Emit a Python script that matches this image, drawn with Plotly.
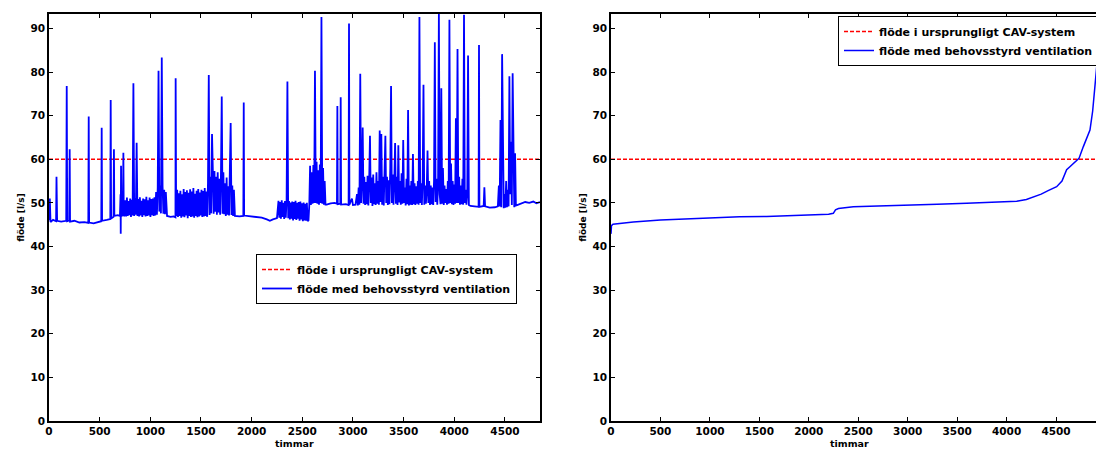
import plotly.graph_objects as go

# ---------------- data ----------------
# Left panel: hourly flow [l/s]; calm stretches as explicit (hour, value) pairs,
# busy stretches as value lists sampled every 8 h from a start hour.
calm0_h = [0, 8, 15, 40, 70, 74, 80, 120, 170, 175, 180, 200, 204, 208, 250, 300, 350,
           388, 392, 396, 440, 480, 516, 520, 524, 570, 605, 609, 613, 637, 641, 645,
           680, 700, 706, 708, 711, 716, 730, 734, 738]
calm0_v = [46.0, 51.0, 45.6, 46.1, 45.8, 56.0, 45.9, 45.7, 45.9, 76.8, 45.8, 46.0, 62.3,
           45.7, 45.9, 45.5, 45.6, 45.4, 69.8, 45.5, 45.3, 45.6, 45.8, 67.2, 45.9, 46.1,
           46.3, 73.6, 46.4, 46.8, 62.3, 47.0, 47.2, 47.0, 52.0, 42.9, 58.5, 47.0, 47.2,
           61.5, 47.0]
busyA_start = 745
busyA = [47.1, 50.6, 46.9, 51.2, 47.0, 50.4, 47.2, 51.0, 46.8, 50.7, 47.1, 77.4, 47.0,
         51.1, 47.3, 63.8, 47.0, 50.9, 46.9, 51.3, 47.1, 50.5, 46.8, 51.0, 47.2, 50.8,
         46.9, 51.4, 47.0, 50.6, 47.1, 51.2, 46.8, 50.9, 47.2, 51.0, 47.0, 51.3, 47.1,
         52.5, 47.3, 53.5, 80.3, 48.0, 54.0, 47.6, 83.3, 53.8, 47.5, 53.0, 47.4, 52.5]
calm1_h = [1165, 1200, 1230, 1248, 1250, 1255]
calm1_v = [47.0, 46.8, 46.9, 46.7, 78.6, 47.0]
busyB_start = 1265
busyB = [53.0, 46.8, 52.2, 47.0, 52.8, 46.6, 52.0, 46.9, 53.2, 46.7, 52.5, 47.1, 52.9,
         46.5, 52.3, 47.0, 53.1, 46.8, 52.6, 46.9, 53.4, 46.6, 52.1, 47.0, 52.8, 46.7,
         53.2, 46.9, 52.4, 47.1, 53.0, 46.8, 52.7, 46.9, 53.4, 47.0, 52.6, 46.8, 54.5,
         79.3, 47.2, 56.0, 47.6, 65.8, 57.5, 47.5, 57.3, 48.0, 56.0, 47.3, 57.0, 47.8,
         55.5, 47.3, 56.5, 74.4, 47.5, 57.0, 47.4, 54.5, 47.0, 55.8, 47.3, 53.8, 47.1,
         54.8, 68.3, 47.2, 54.0, 47.0, 53.0]
calm2_h = [1835, 1880, 1918, 1922, 1926, 1980, 2050, 2100, 2150, 2180, 2210, 2250]
calm2_v = [47.0, 46.9, 47.0, 73.0, 47.1, 46.9, 46.8, 46.6, 46.2, 45.9, 46.2, 46.5]
busyD_start = 2265
busyD = [50.5, 46.6, 50.2, 46.4, 50.6, 46.8, 50.0, 46.3, 50.4, 46.6, 50.7, 77.8, 46.5,
         50.4, 46.2, 50.1, 46.4, 50.3, 46.0, 50.2, 46.3, 50.5, 46.1, 50.0, 46.4, 50.2,
         45.9, 50.3, 46.2, 49.9, 45.8, 50.1, 46.0, 49.8, 45.9, 50.0, 45.8, 46.0, 49.5,
         58.5, 49.5, 57.0, 49.8, 58.7, 50.0, 80.3, 50.0, 59.4, 49.8, 57.5, 49.6, 58.8,
         50.0, 92.6, 49.8, 58.0, 49.6, 55.0, 49.6]
calm3_h = [2740, 2780, 2820, 2842, 2846, 2850, 2875, 2879, 2883, 2930, 2957, 2961, 2965,
           2990, 3000, 3025]
calm3_v = [49.6, 49.9, 50.0, 49.8, 72.2, 49.7, 49.8, 74.2, 49.6, 49.7, 49.5, 91.1, 49.6,
           51.0, 49.5, 49.6]
busyF_start = 3040
busyF = [52.0, 49.4, 53.5, 49.6, 79.6, 50.0, 55.0, 67.3, 49.8, 56.0, 49.5, 54.8, 49.7,
         56.2, 49.4, 55.0, 65.4, 50.0, 55.8, 49.3, 56.5, 49.7, 54.5, 49.5, 57.0, 49.8,
         55.0, 49.6, 66.6, 50.2, 65.8, 49.6, 56.0, 49.4, 57.5, 65.4, 50.0, 56.0, 49.5,
         55.2, 49.7, 57.8, 76.8, 50.0, 56.5, 49.6, 55.0, 63.7, 49.8, 56.0, 49.5, 63.2,
         50.1, 55.0, 49.6, 56.8, 49.8, 64.4, 50.0, 53.5, 49.4, 55.5, 49.7, 71.3, 49.4,
         54.0, 49.6, 55.0, 49.5, 61.2, 49.7, 54.5, 49.5, 53.8, 49.8, 55.0, 49.6, 92.6,
         50.0, 54.5, 49.5, 55.5, 77.1, 49.6, 54.0, 49.8, 53.0, 62.0, 50.0, 55.0, 49.5,
         54.0, 49.7, 53.5, 49.5, 55.0, 86.8, 50.2, 55.5, 49.6, 54.0, 93.3, 52.0, 49.7,
         76.3, 49.8, 58.0, 49.5, 54.0, 50.0, 53.2, 49.6, 55.0, 49.8, 92.0, 50.0, 59.0,
         49.7, 55.0, 49.5, 54.2, 49.8, 69.4, 50.0, 85.3, 50.0, 56.0, 49.6, 54.0, 49.7,
         55.5, 49.6, 93.1, 50.0, 53.0, 49.6, 52.0, 83.8, 49.5]
calm4_h = [4160, 4200, 4240, 4244, 4248, 4290, 4297, 4304, 4350, 4400, 4430]
calm4_v = [49.3, 49.2, 49.1, 86.2, 49.1, 49.3, 53.6, 49.2, 48.9, 49.0, 49.2]
busyH_start = 4440
busyH = [54.0, 49.2, 69.0, 49.0, 84.1, 54.0, 48.8, 52.0, 48.9, 55.0, 49.0, 53.0, 49.2,
         79.0, 52.0, 64.0, 49.5, 79.7, 55.0, 49.0, 61.4, 49.4]
calm5_h = [4620, 4660, 4700, 4740, 4780, 4810, 4846]
calm5_v = [49.5, 49.8, 50.2, 50.0, 50.3, 49.9, 50.2]
busy_step = 8

# Right panel: duration curve (sorted hourly flow)
dur_h = [0, 5, 20, 100, 225, 500, 900, 1300, 1574, 1900, 2200, 2248, 2270, 2300, 2450,
         2700, 2922, 3300, 3596, 3900, 4102, 4200, 4270, 4350, 4420, 4506, 4560, 4607,
         4640, 4675, 4732, 4776, 4843, 4870, 4904, 4930, 4960]
dur_v = [42.9, 44.8, 45.1, 45.3, 45.6, 46.1, 46.5, 46.8, 46.9, 47.1, 47.4, 47.6, 48.4,
         48.7, 49.1, 49.3, 49.5, 49.7, 49.9, 50.1, 50.4, 50.8, 51.4, 52.0, 52.8, 53.7,
         55.0, 57.6, 58.3, 59.1, 60.2, 62.9, 66.7, 71.0, 79.0, 86.0, 93.3]

cav_flow = 60
left_span = [0, 4846]
right_span = [0, 5000]
x_ticks = [0, 500, 1000, 1500, 2000, 2500, 3000, 3500, 4000, 4500]
y_ticks = [0, 10, 20, 30, 40, 50, 60, 70, 80, 90]

name_cav = "flöde i ursprungligt CAV-system"
name_dcv = "flöde med behovsstyrd ventilation"
x_title = "timmar"
y_title = "flöde [l/s]"

# ---------------- assemble left series ----------------
hours, flow = [], []
def add_pairs(h, v):
    hours.extend(h); flow.extend(v)
def add_busy(start, vals):
    hours.extend(start + i * busy_step for i in range(len(vals))); flow.extend(vals)

add_pairs(calm0_h, calm0_v); add_busy(busyA_start, busyA)
add_pairs(calm1_h, calm1_v); add_busy(busyB_start, busyB)
add_pairs(calm2_h, calm2_v); add_busy(busyD_start, busyD)
add_pairs(calm3_h, calm3_v); add_busy(busyF_start, busyF)
add_pairs(calm4_h, calm4_v); add_busy(busyH_start, busyH)
add_pairs(calm5_h, calm5_v)

# ---------------- layout (page margin removed by post_script) ----------------
W, H = 1096, 450
def px(x):  # page x -> paper x
    return x / W
def py(y):  # page y -> paper y
    return (H - y) / H

BLUE = "#0000ff"
RED = "#ff0000"
FONT = dict(family="DejaVu Sans", size=10.5, color="black", weight="bold")

fig = go.Figure()
fig.add_trace(go.Scatter(x=left_span, y=[cav_flow, cav_flow], mode="lines", name=name_cav,
                         line=dict(color=RED, width=1.5, dash="4px,2px"),
                         xaxis="x", yaxis="y", legend="legend"))
fig.add_trace(go.Scatter(x=hours, y=flow, mode="lines", name=name_dcv,
                         line=dict(color=BLUE, width=1.8),
                         xaxis="x", yaxis="y", legend="legend"))
fig.add_trace(go.Scatter(x=right_span, y=[cav_flow, cav_flow], mode="lines", name=name_cav,
                         line=dict(color=RED, width=1.5, dash="4px,2px"),
                         xaxis="x2", yaxis="y2", legend="legend2"))
fig.add_trace(go.Scatter(x=dur_h, y=dur_v, mode="lines", name=name_dcv,
                         line=dict(color=BLUE, width=1.5),
                         xaxis="x2", yaxis="y2", legend="legend2"))

ydom = [py(421), py(14)]
ax_common = dict(showgrid=False, zeroline=False, showline=True, linecolor="black",
                 linewidth=1.5, ticks="inside", ticklen=4, tickcolor="black",
                 tickwidth=1, tickfont=FONT, automargin=False)
ytitle = dict(text=y_title, font=dict(family="DejaVu Sans", size=9, weight="bold"),
              standoff=4)

legend_common = dict(bgcolor="white", bordercolor="black", borderwidth=1,
                     font=dict(family="DejaVu Sans", size=11, color="black", weight="bold"),
                     xanchor="left", yanchor="top", itemwidth=30,
                     tracegroupgap=0)

xt_font = dict(family="DejaVu Sans", size=9.5, color="black", weight="bold")

fig.update_layout(
    width=W, height=H,
    margin=dict(l=0, r=0, t=0, b=0, autoexpand=False),
    paper_bgcolor="white", plot_bgcolor="white",
    font=FONT,
    hovermode=False,
    xaxis=dict(domain=[px(49), px(540)], range=left_span, tickvals=x_ticks,
               mirror="ticks", anchor="y", ticklabelstandoff=0, **ax_common),
    yaxis=dict(domain=ydom, range=[0, 93.3], tickvals=y_ticks,
               mirror="ticks", anchor="x", title=ytitle, **ax_common),
    xaxis2=dict(domain=[px(611), 1.0], range=[0, 4904], tickvals=x_ticks,
                mirror="ticks", anchor="y2", ticklabelstandoff=0, **ax_common),
    yaxis2=dict(domain=ydom, range=[0, 93.3], tickvals=y_ticks,
                mirror=False, anchor="x2", title=ytitle, **ax_common),
    legend=dict(x=px(256), y=py(254), **legend_common),
    legend2=dict(x=px(838), y=py(16), **legend_common),
    showlegend=True,
    annotations=[
        dict(text=x_title, xref="paper", yref="paper", x=(px(49) + px(540)) / 2, y=0,
             xanchor="center", yanchor="bottom", borderpad=0, showarrow=False,
             font=xt_font),
        dict(text=x_title, xref="paper", yref="paper", x=px(849), y=0,
             xanchor="center", yanchor="bottom", borderpad=0, showarrow=False,
             font=xt_font),
    ],
)

fig.write_html(
    "out.html",
    config={"displayModeBar": False},
    post_script="document.body.style.margin='0';"
                "document.documentElement.style.overflow='hidden';"
                "document.body.style.overflow='hidden';",
)
